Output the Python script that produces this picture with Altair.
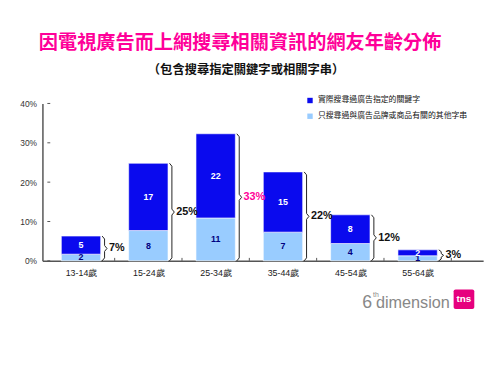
import altair as alt
import pandas as pd

# ---- data ----
ages = ["13-14歲", "15-24歲", "25-34歲", "35-44歲", "45-54歲", "55-64歲"]
light_vals = [1.7, 7.7, 10.9, 7.3, 4.4, 1.3]      # 只搜尋過與廣告品牌或商品有關的其他字串
dark_vals = [4.6, 17.1, 21.4, 15.3, 7.3, 1.5]     # 實際搜尋過廣告指定的關鍵字
light_labels = ["2", "8", "11", "7", "4", "1"]
dark_labels = ["5", "17", "22", "15", "8", "2"]
total_labels = ["7%", "25%", "33%", "22%", "12%", "3%"]
total_colors = ["#111111", "#111111", "#FF0099", "#111111", "#111111", "#111111"]
y_ticks = [0, 10, 20, 30, 40]

series_dark = "實際搜尋過廣告指定的關鍵字"
series_light = "只搜尋過與廣告品牌或商品有關的其他字串"

DARK = "#0A0AEE"
LIGHT = "#99CCFF"
FONT = "Liberation Sans"
CJK = "Noto Sans CJK TC"

PX = 70.0  # pixels per category unit
YPX = 4.0  # pixels per percent

rows = []
for i, a in enumerate(ages):
    lo = light_vals[i]
    hi = light_vals[i] + dark_vals[i]
    rows.append(dict(idx=i, age=a, series=series_light, y0=0, y1=lo, mid=lo / 2,
                     lab=light_labels[i], tcol="#000080"))
    rows.append(dict(idx=i, age=a, series=series_dark, y0=lo, y1=hi, mid=(lo + hi) / 2,
                     lab=dark_labels[i], tcol="#FFFFFF"))
bars = pd.DataFrame(rows)

tot = pd.DataFrame(dict(
    idx=list(range(len(ages))),
    total=[l + d for l, d in zip(light_vals, dark_vals)],
    lab=total_labels, col=total_colors,
))
tot["mid"] = tot["total"] / 2
tot["lx"] = tot["idx"] + 29 / PX

# brace outlines derived from each total
brace_rows = []
for _, r in tot.iterrows():
    t = r["total"]
    m = t / 2
    c = min(3 / YPX, t / 6)
    bx = r["idx"] + 22 / PX
    pts = [(0, 0), (2.5, c), (2.5, m - c), (5, m), (2.5, m + c), (2.5, t - c), (0, t)]
    for k, (dx, yy) in enumerate(pts):
        brace_rows.append(dict(idx=r["idx"], k=k, bx=bx + dx / PX, by=yy))
braces = pd.DataFrame(brace_rows)

xscale = alt.Scale(domain=[-0.5, 5.9], nice=False, zero=False)
yscale = alt.Scale(domain=[0, 40], nice=False)

label_expr = "[" + ",".join("'%s'" % a for a in ages) + "][datum.value]"

XAXIS = alt.Axis(values=list(range(len(ages))), labelExpr=label_expr, title=None,
                 ticks=False, grid=False, domainColor="#555555", domainWidth=1.5,
                 labelFont=FONT, labelFontSize=9, labelColor="#222222", labelPadding=8,
                 labelOverlap=False)
YAXIS = alt.Axis(values=y_ticks, labelExpr="datum.value + '%'", title=None, ticks=False,
                 grid=False, domainColor="#555555", domainWidth=1.5, labelFont=FONT,
                 labelFontSize=8.5, labelColor="#333333", labelPadding=6,
                 labelOverlap=False)


def X(f):
    return alt.X(f, scale=xscale, axis=XAXIS)


def Y(f):
    return alt.Y(f, scale=yscale, axis=YAXIS)


bar_layer = alt.Chart(bars).mark_bar(size=40, stroke="white", strokeWidth=0.6).encode(
    x=X("idx:Q"),
    y=Y("y0:Q"),
    y2="y1:Q",
    color=alt.Color("series:N",
                    scale=alt.Scale(domain=[series_dark, series_light], range=[DARK, LIGHT]),
                    legend=alt.Legend(orient="none", legendX=268, legendY=-7, title=None,
                                      symbolType="square", symbolSize=30, symbolStrokeWidth=0,
                                      labelFont=CJK, labelFontSize=8, labelColor="#111111",
                                      rowPadding=8, labelLimit=300)),
)

seg_text = alt.Chart(bars).mark_text(font=FONT, fontSize=9, fontWeight="bold", baseline="middle").encode(
    x=X("idx:Q"), y=Y("mid:Q"), text="lab:N", color=alt.Color("tcol:N", scale=None),
)

brace_layer = alt.Chart(braces).mark_line(color="#222222", strokeWidth=1).encode(
    x=X("bx:Q"), y=Y("by:Q"), detail="idx:N", order="k:Q",
)

tot_text = alt.Chart(tot).mark_text(font=FONT, fontSize=11, fontWeight="bold", align="left",
                                    baseline="middle").encode(
    x=X("lx:Q"), y=Y("mid:Q"), text="lab:N", color=alt.Color("col:N", scale=None),
)

# inward y ticks and x separators
ytick_df = pd.DataFrame(dict(v=y_ticks, x0=-0.5, x1=-0.5 + 3 / PX))
ytick_layer = alt.Chart(ytick_df).mark_rule(color="#555555").encode(
    x=X("x0:Q"), x2="x1:Q", y=Y("v:Q"))
xtick_df = pd.DataFrame(dict(v=[i + 0.5 for i in range(len(ages))], y0=0, y1=3 / YPX))
xtick_layer = alt.Chart(xtick_df).mark_rule(color="#555555").encode(
    x=X("v:Q"), y=Y("y0:Q"), y2="y1:Q")

# titles and logo
title_df = pd.DataFrame(dict(t=["因電視廣告而上網搜尋相關資訊的網友年齡分佈"]))
title = alt.Chart(title_df).mark_text(font=CJK, fontSize=19.5, fontWeight="bold", color="#FF0099",
                                      align="center", baseline="middle").encode(
    x=alt.value(201), y=alt.value(-61), text="t:N")
sub_df = pd.DataFrame(dict(t=["（包含搜尋指定關鍵字或相關字串）"]))
subtitle = alt.Chart(sub_df).mark_text(font=CJK, fontSize=12.5, fontWeight="bold", color="#111111",
                                       align="center", baseline="middle").encode(
    x=alt.value(207), y=alt.value(-34), text="t:N")

logo6 = alt.Chart(pd.DataFrame(dict(t=["6"]))).mark_text(
    font=FONT, fontSize=18, color="#888888", align="left", baseline="alphabetic").encode(
    x=alt.value(325), y=alt.value(208), text="t:N")
logoth = alt.Chart(pd.DataFrame(dict(t=["th"]))).mark_text(
    font=FONT, fontSize=7, color="#888888", align="left", baseline="alphabetic").encode(
    x=alt.value(336), y=alt.value(197), text="t:N")
logodim = alt.Chart(pd.DataFrame(dict(t=["dimension"]))).mark_text(
    font=FONT, fontSize=16.5, color="#888888", align="left", baseline="alphabetic").encode(
    x=alt.value(339), y=alt.value(208), text="t:N")
logobox = alt.Chart(pd.DataFrame(dict(a=[0]))).mark_rect(color="#E6007E", cornerRadius=2).encode(
    x=alt.value(418), x2=alt.value(439), y=alt.value(189), y2=alt.value(209))
logotns = alt.Chart(pd.DataFrame(dict(t=["tns"]))).mark_text(
    font=FONT, fontSize=10, fontWeight="bold", color="white", align="center", baseline="middle").encode(
    x=alt.value(428.5), y=alt.value(199), text="t:N")

chart = alt.layer(
    bar_layer, seg_text, brace_layer, tot_text, ytick_layer, xtick_layer,
    title, subtitle, logo6, logoth, logodim, logobox, logotns,
).properties(
    width=448, height=160,
    autosize=alt.AutoSizeParams(type="none"),
    padding={"left": 35, "top": 94, "right": 9, "bottom": 113},
    background="white",
).configure_view(stroke=None)

chart.save("out.html", embed_options={"renderer": "svg", "actions": False})
